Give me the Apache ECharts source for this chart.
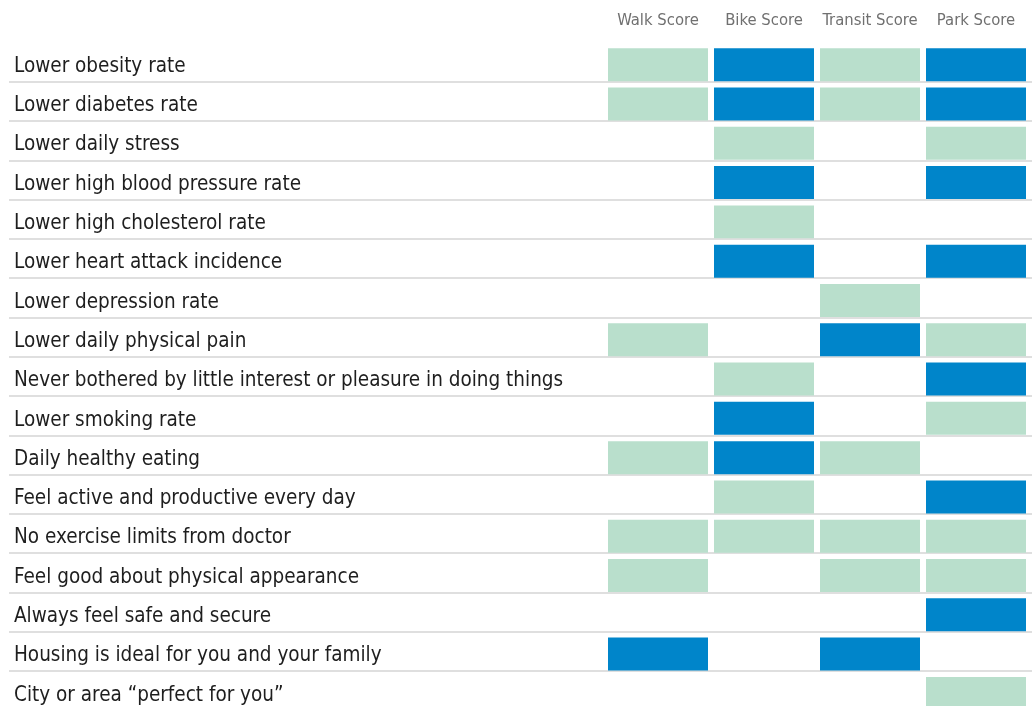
<!DOCTYPE html>
<html style="height: 100%">
<head>
<meta charset="utf-8">
</head>
<body style="height: 100%; margin: 0; background: #fff">
<div id="container" style="width: 1032px; height: 706px"></div>
<script type="text/javascript" src="https://cdn.jsdelivr.net/npm/echarts@6/dist/echarts.min.js"></script>
<script type="text/javascript">
// outcomes (rows) and score types (columns)
var outcomes = [
  'Lower obesity rate',
  'Lower diabetes rate',
  'Lower daily stress',
  'Lower high blood pressure rate',
  'Lower high cholesterol rate',
  'Lower heart attack incidence',
  'Lower depression rate',
  'Lower daily physical pain',
  'Never bothered by little interest or pleasure in doing things',
  'Lower smoking rate',
  'Daily healthy eating',
  'Feel active and productive every day',
  'No exercise limits from doctor',
  'Feel good about physical appearance',
  'Always feel safe and secure',
  'Housing is ideal for you and your family',
  'City or area \u201cperfect for you\u201d'
];
var scores = ['Walk Score', 'Bike Score', 'Transit Score', 'Park Score'];

// 0 = none, 1 = light, 2 = strong
var walk    = [1, 1, 0, 0, 0, 0, 0, 1, 0, 0, 1, 0, 1, 1, 0, 2, 0];
var bike    = [2, 2, 1, 2, 1, 2, 0, 0, 1, 2, 2, 1, 1, 0, 0, 0, 0];
var transit = [1, 1, 0, 0, 0, 0, 1, 2, 0, 0, 1, 0, 1, 1, 0, 2, 0];
var park    = [2, 2, 1, 2, 0, 2, 0, 1, 2, 1, 0, 2, 1, 1, 2, 0, 1];

var levelColor = { 1: '#b9dfcc', 2: '#0085ca' };
var font = "'Liberation Sans Narrow', 'DejaVu Sans Condensed', sans-serif";

var cells = [];
[walk, bike, transit, park].forEach(function (col, ci) {
  col.forEach(function (v, ri) {
    if (v > 0) cells.push([ci, ri, v]);
  });
});

var dom = document.getElementById('container');
var myChart = echarts.init(dom);

var gridTop = 42.4, gridHeight = 668;

option = {
  animation: false,
  grid: [
    { left: 9, right: 0, top: gridTop, height: gridHeight, outerBoundsMode: 'none' },
    { left: 605, right: 3, top: gridTop, height: gridHeight, outerBoundsMode: 'none' }
  ],
  xAxis: [
    { gridIndex: 0, type: 'value', show: false, min: 0, max: 1 },
    {
      gridIndex: 1,
      type: 'category',
      position: 'top',
      data: scores,
      axisLine: { show: false },
      axisTick: { show: false },
      axisLabel: { interval: 0, color: '#707070', fontSize: 16.5, fontFamily: font, margin: 13 }
    }
  ],
  yAxis: [
    {
      gridIndex: 0,
      type: 'category',
      inverse: true,
      data: outcomes,
      axisLine: { show: false },
      axisTick: { show: false },
      axisLabel: {
        interval: 0, inside: true, margin: 5,
        formatter: function (v) { return '{t|' + v + '}'; },
        rich: { t: { color: '#1e1e1e', fontSize: 20.5, fontFamily: font, padding: [9, 0, 0, 0] } }
      },
      splitLine: { show: true, showMinLine: false, lineStyle: { color: '#d4d4d4', width: 1.5 } }
    },
    {
      gridIndex: 1,
      type: 'category',
      inverse: true,
      data: outcomes,
      show: false
    }
  ],
  series: [
    {
      type: 'custom',
      xAxisIndex: 1,
      yAxisIndex: 1,
      data: cells,
      renderItem: function (params, api) {
        var c = api.coord([api.value(0), api.value(1)]);
        var s = api.size([1, 1]);
        var w = s[0] - 6, h = s[1] - 6.3;
        return {
          type: 'rect',
          shape: { x: c[0] - w / 2, y: c[1] + s[1] / 2 - h - 0.5, width: w, height: h },
          style: { fill: levelColor[api.value(2)] }
        };
      }
    }
  ]
};

myChart.setOption(option, true);
</script>
</body>
</html>
